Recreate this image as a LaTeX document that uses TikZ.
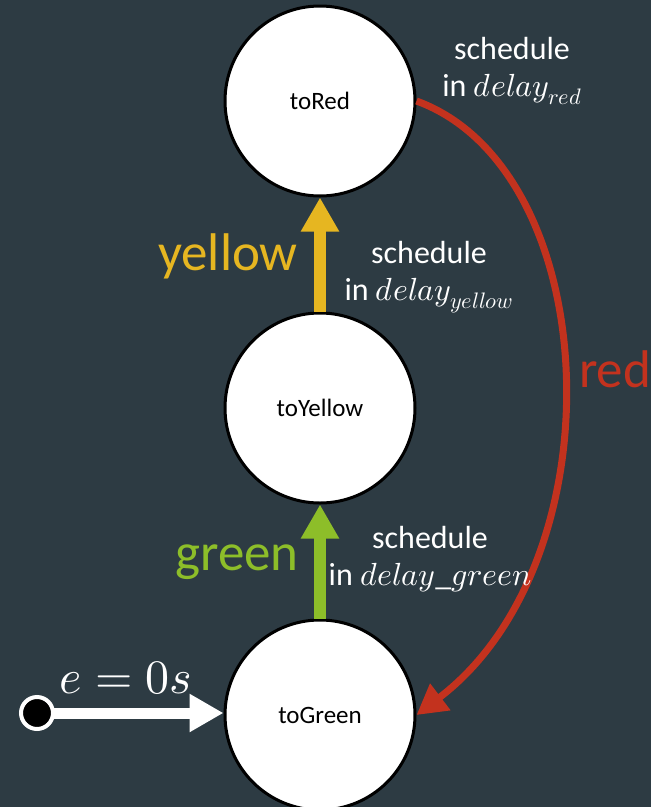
\documentclass[tikz,border=0pt]{standalone}
\usepackage{unicode-math}
\setmainfont{Carlito}
\setmathfont{Latin Modern Math}
\usetikzlibrary{arrows.meta}
\definecolor{bgslate}{HTML}{2D3B43}
\definecolor{yellowc}{HTML}{E6B621}
\definecolor{greenc}{HTML}{8DBE29}
\definecolor{redc}{HTML}{C3321E}
\begin{document}
\begin{tikzpicture}[x=1pt,y=-1pt,
  state/.style={circle,draw=black,fill=white,line width=3pt,minimum size=190pt,inner sep=0pt,font=\fontsize{25}{30}\selectfont},
  fatarrow/.style={line width=12pt,-{Triangle[width=36pt,length=34pt]}},
  note/.style={text=white,align=center,font=\fontsize{32}{37}\selectfont},
  evlabel/.style={font=\fontsize{53}{58}\selectfont}]
  \fill[bgslate] (0,0) rectangle (651,807);
  \useasboundingbox (0,0) rectangle (651,807);
  \begin{scope}
  \clip (0,0) rectangle (651,807);
  \node[state] (tored) at (320,101) {toRed};
  \node[state] (toyellow) at (320,408) {toYellow};
  \node[state] (togreen) at (320,715) {toGreen};
  % initial state marker
  \node[circle,fill=black,draw=white,line width=4pt,minimum size=32pt,inner sep=0pt] (init) at (37,713) {};
  \draw[fatarrow,white,line width=11pt,shorten <=-2pt] (init) -- (togreen.west |- init);
  \node[text=white,font=\fontsize{48}{52}\selectfont] (elab) at (126,678) {$e = 0s$};
  % transitions
  \draw[fatarrow,yellowc] (toyellow) -- (tored);
  \draw[fatarrow,greenc] (togreen) -- (toyellow);
  \draw[redc,line width=7pt,-{Triangle[width=32pt,length=30pt]}]
    (tored.east) .. controls (605,170) and (620,560) .. (togreen.east);
  % labels
  \node[evlabel,text=yellowc] (ylab) at (228,256) {yellow};
  \node[evlabel,text=greenc] (glab) at (237,562) {green};
  \node[evlabel,text=redc] (rlab) at (615,369) {red};
  \node[note] (nred) at (512,71) {schedule\\in $delay_{red}$};
  \node[note] (nyellow) at (429,277) {schedule\\in $delay_{yellow}$};
  \node[note] (ngreen) at (430,559) {schedule\\in $delay\_green$};
  \end{scope}
\end{tikzpicture}
\end{document}
